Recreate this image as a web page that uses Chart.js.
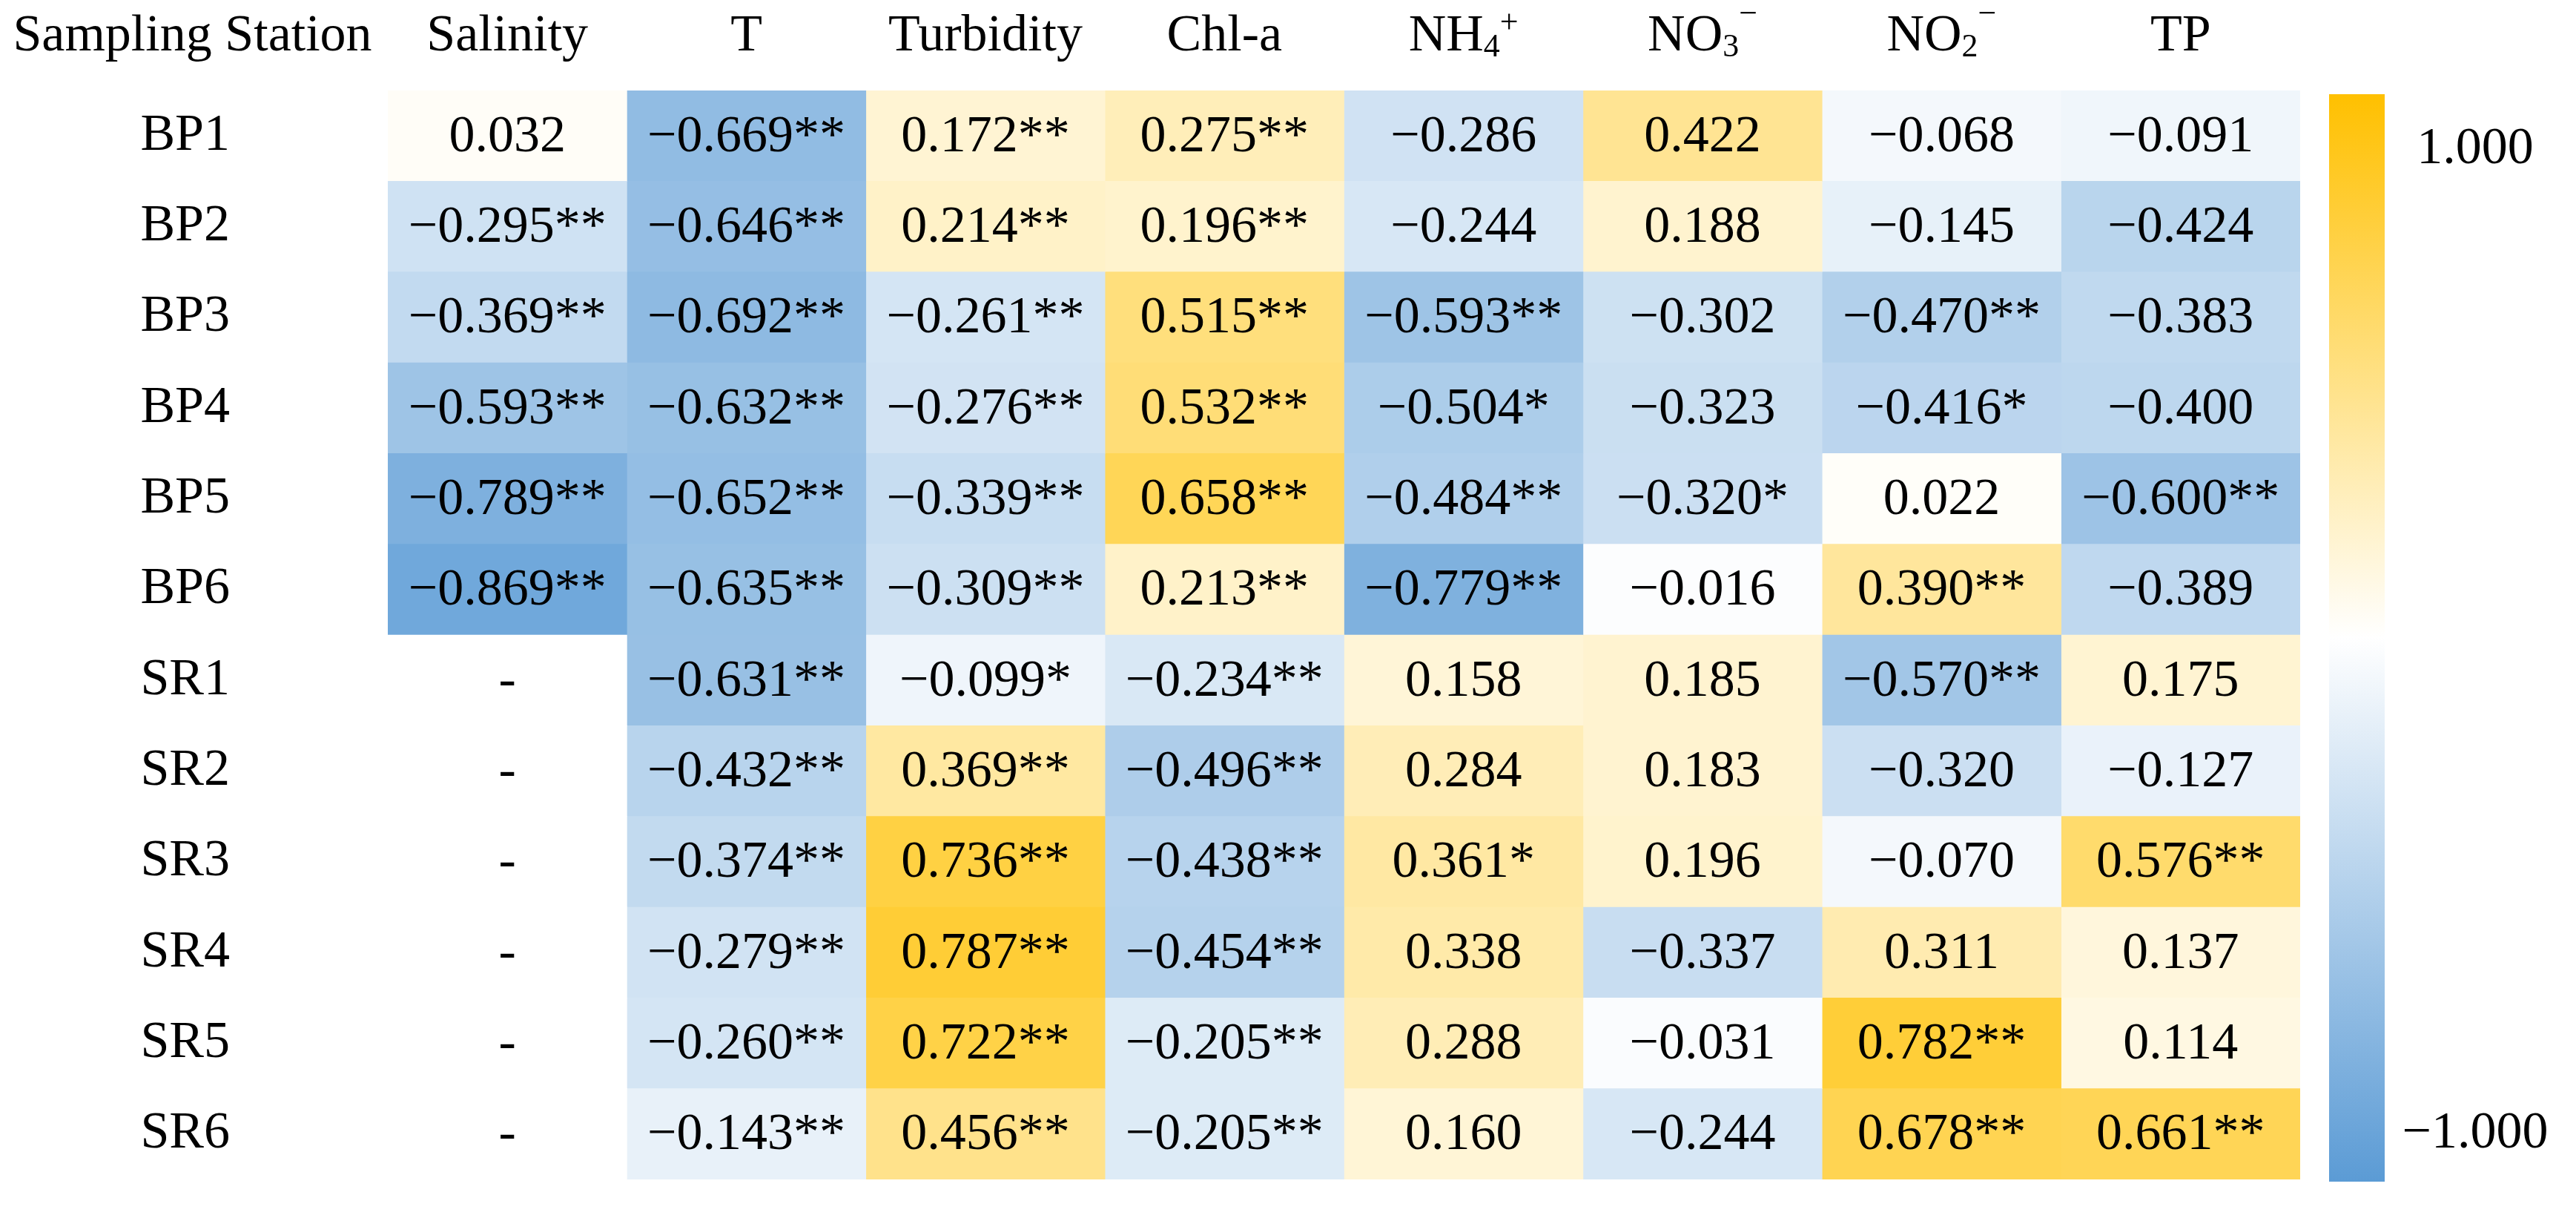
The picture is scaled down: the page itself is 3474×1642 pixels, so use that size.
<!DOCTYPE html>
<html>
<head>
<meta charset="utf-8">
<script src="https://cdn.jsdelivr.net/npm/chart.js@4.4.1/dist/chart.umd.min.js"></script>
<style>
  html, body { margin: 0; padding: 0; background: #fff; }
  #wrap { width: 3474px; height: 1642px; }
</style>
</head>
<body>
<div id="wrap"><canvas id="heat"></canvas></div>
<script>
// stations (rows) and parameters (columns)
const stations = ["BP1", "BP2", "BP3", "BP4", "BP5", "BP6", "SR1", "SR2", "SR3", "SR4", "SR5", "SR6"];
const params = ["Salinity", "T", "Turbidity", "Chl-a", "NH₄⁺", "NO₃⁻", "NO₂⁻", "TP"];

// correlation values per parameter, one entry per station (null = no data)
const salinity  = [0.032, -0.295, -0.369, -0.593, -0.789, -0.869, null, null, null, null, null, null];
const temp      = [-0.669, -0.646, -0.692, -0.632, -0.652, -0.635, -0.631, -0.432, -0.374, -0.279, -0.260, -0.143];
const turbidity = [0.172, 0.214, -0.261, -0.276, -0.339, -0.309, -0.099, 0.369, 0.736, 0.787, 0.722, 0.456];
const chla      = [0.275, 0.196, 0.515, 0.532, 0.658, 0.213, -0.234, -0.496, -0.438, -0.454, -0.205, -0.205];
const nh4       = [-0.286, -0.244, -0.593, -0.504, -0.484, -0.779, 0.158, 0.284, 0.361, 0.338, 0.288, 0.160];
const no3       = [0.422, 0.188, -0.302, -0.323, -0.320, -0.016, 0.185, 0.183, 0.196, -0.337, -0.031, -0.244];
const no2       = [-0.068, -0.145, -0.470, -0.416, 0.022, 0.390, -0.570, -0.320, -0.070, 0.311, 0.782, 0.678];
const tp        = [-0.091, -0.424, -0.383, -0.400, -0.600, -0.389, 0.175, -0.127, 0.576, 0.137, 0.114, 0.661];

// significance marks
const salinitySig  = ["", "**", "**", "**", "**", "**", "", "", "", "", "", ""];
const tempSig      = ["**", "**", "**", "**", "**", "**", "**", "**", "**", "**", "**", "**"];
const turbiditySig = ["**", "**", "**", "**", "**", "**", "*", "**", "**", "**", "**", "**"];
const chlaSig      = ["**", "**", "**", "**", "**", "**", "**", "**", "**", "**", "**", "**"];
const nh4Sig       = ["", "", "**", "*", "**", "**", "", "", "*", "", "", ""];
const no3Sig       = ["", "", "", "", "*", "", "", "", "", "", "", ""];
const no2Sig       = ["", "", "**", "*", "", "**", "**", "", "", "", "**", "**"];
const tpSig        = ["", "", "", "", "**", "", "", "", "**", "", "", "**"];

const scaleTicks = [1, -1];

const values = [salinity, temp, turbidity, chla, nh4, no3, no2, tp];
const sigs = [salinitySig, tempSig, turbiditySig, chlaSig, nh4Sig, no3Sig, no2Sig, tpSig];

const POS = [255, 192, 0];
const NEG = [91, 155, 213];
const FONT = "'Liberation Serif', 'Times New Roman', serif";

function cellColor(v) {
	if (v === null) return "#ffffff";
	const c = v >= 0 ? POS : NEG;
	const t = Math.min(1, Math.abs(v));
	const mix = c.map(ch => Math.round(255 + (ch - 255) * t));
	return `rgb(${mix[0]},${mix[1]},${mix[2]})`;
}

function cellText(v, s) {
	if (v === null) return "-";
	return (v < 0 ? "\u2212" : "") + Math.abs(v).toFixed(3) + s;
}

// split a label into normal / subscript / superscript pieces
const SUBS = { "₂": "2", "₃": "3", "₄": "4" };
const SUPS = { "⁺": "+", "⁻": "\u2212" };
function pieces(label) {
	const out = [];
	for (const ch of label) {
		if (SUBS[ch]) out.push([SUBS[ch], "sub"]);
		else if (SUPS[ch]) out.push([SUPS[ch], "sup"]);
		else if (out.length && out[out.length - 1][1] === "n") out[out.length - 1][0] += ch;
		else out.push([ch, "n"]);
	}
	return out;
}

function drawRich(ctx, label, cx, base) {
	const parts = pieces(label);
	const fontFor = k => (k === "n" ? "70px " : "44px ") + FONT;
	let total = 0;
	parts.forEach(p => { ctx.font = fontFor(p[1]); total += ctx.measureText(p[0]).width; });
	let x = cx - total / 2;
	ctx.textAlign = "left";
	ctx.textBaseline = "alphabetic";
	parts.forEach(p => {
		ctx.font = fontFor(p[1]);
		let y = base;
		if (p[1] === "sub") y = base + 8;
		if (p[1] === "sup") y = p[0] === "+" ? base - 24 : base - 36;
		ctx.fillText(p[0], x, y);
		x += ctx.measureText(p[0]).width;
	});
}

const heatLabels = {
	id: "heatLabels",
	afterDatasetsDraw(chart) {
		const ctx = chart.ctx;
		ctx.save();
		ctx.fillStyle = "#000";
		ctx.font = "70px " + FONT;
		ctx.textAlign = "center";
		ctx.textBaseline = "middle";
		chart.data.datasets.forEach((ds, c) => {
			chart.getDatasetMeta(c).data.forEach((bar, r) => {
				ctx.fillText(cellText(values[c][r], sigs[c][r]), (bar.x + bar.base) / 2, bar.y + 2);
			});
		});
		ctx.restore();
	},
	afterDraw(chart) {
		const ctx = chart.ctx;
		const area = chart.chartArea;
		const xs = chart.scales.x;
		const ys = chart.scales.y;
		ctx.save();
		ctx.fillStyle = "#000";
		// column headers
		params.forEach((p, c) => drawRich(ctx, p, xs.getPixelForValue(c + 0.5), 68));
		// row header
		drawRich(ctx, "Sampling Station", (ys.left + ys.right) / 2 - 2, 68);

		// colour bar
		const bx = area.right + 39, bw = 75;
		const top = area.top + 5, bottom = area.bottom + 3;
		const g = ctx.createLinearGradient(0, top, 0, bottom);
		g.addColorStop(0, cellColor(1));
		g.addColorStop(0.5, "#ffffff");
		g.addColorStop(1, cellColor(-1));
		ctx.fillStyle = g;
		ctx.fillRect(bx, top, bw, bottom - top);
		ctx.fillStyle = "#000";
		ctx.font = "70px " + FONT;
		ctx.textAlign = "center";
		ctx.textBaseline = "middle";
		const lx = bx + bw + 122;
		ctx.fillText(cellText(scaleTicks[0], ""), lx, top + 75);
		ctx.fillText(cellText(scaleTicks[1], ""), lx, bottom - 64);
		ctx.restore();
	}
};

Chart.defaults.font.family = FONT;
Chart.defaults.color = "#000";

const datasets = params.map((p, c) => ({
	label: p,
	data: stations.map(() => 1),
	backgroundColor: values[c].map(cellColor),
	borderWidth: 0,
	barPercentage: 1,
	categoryPercentage: 1
}));

new Chart(document.getElementById("heat"), {
	type: "bar",
	data: { labels: stations, datasets: datasets },
	options: {
		indexAxis: "y",
		responsive: true,
		maintainAspectRatio: false,
		animation: false,
		events: [],
		layout: { padding: { top: 122, right: 372, bottom: 52, left: 0 } },
		plugins: { legend: { display: false }, tooltip: { enabled: false } },
		scales: {
			x: { stacked: true, min: 0, max: params.length, display: false },
			y: {
				stacked: true,
				grid: { display: false },
				border: { display: false },
				ticks: { font: { size: 70 }, color: "#000", crossAlign: "center", padding: 205 },
				afterFit(scale) {
					// keep the wide label column, but don't let tick padding push the grid down
					scale.width = 523;
					scale.paddingTop = 0;
					scale.paddingBottom = 0;
				}
			}
		}
	},
	plugins: [heatLabels]
});
</script>
</body>
</html>
